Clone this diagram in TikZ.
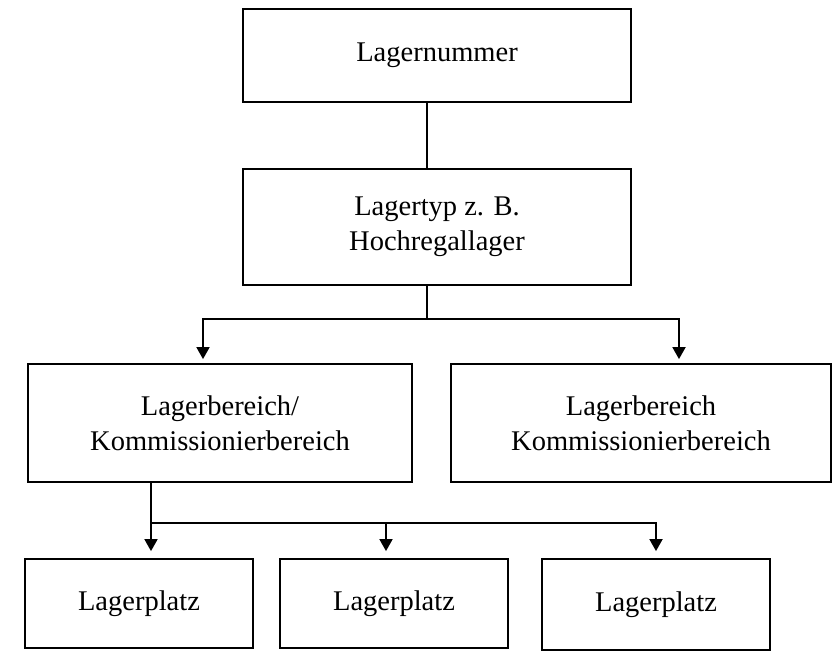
\documentclass[tikz,border=0pt]{standalone}
\usepackage{fontspec}
\setmainfont{Liberation Serif}
\usetikzlibrary{arrows.meta}
\begin{document}
\begin{tikzpicture}[x=1pt,y=-1pt,
  box/.style={draw=black,line width=1.8pt,fill=white,align=center,inner sep=0pt,
    font=\fontsize{28.5}{35}\selectfont},
  conn/.style={line width=1.8pt,draw=black},
  arr/.style={conn,-{Triangle[width=13pt,length=12pt]}}]
\useasboundingbox[fill=white] (0,0) rectangle (833,653);
\node[box,minimum width=388pt,minimum height=93pt] (b1) at (437,55.5) {Lagernummer};
\node[box,minimum width=388pt,minimum height=116pt] (b2) at (437,227) {Lagertyp z. B.\\Hochregallager};
\node[box,minimum width=384pt,minimum height=118pt] (b3) at (220,423) {Lagerbereich/\\Kommissionierbereich};
\node[box,minimum width=380pt,minimum height=118pt] (b4) at (641,423) {Lagerbereich\\Kommissionierbereich};
\node[box,minimum width=228pt,minimum height=89pt] (b5) at (139,603.5) {Lagerplatz};
\node[box,minimum width=228pt,minimum height=89pt] (b6) at (394,603.5) {Lagerplatz};
\node[box,minimum width=228pt,minimum height=91pt] (b7) at (656,604.5) {Lagerplatz};
\coordinate (j1) at (427,319);
\coordinate (j2) at (151,523);
\draw[conn] ([xshift=-10pt]b1.south) -- ([xshift=-10pt]b2.north);
\draw[conn] ([xshift=-10pt]b2.south) -- (j1);
\draw[arr] (j1) -| ([xshift=-17pt,yshift=4pt]b3.north);
\draw[arr] (j1) -| ([xshift=38pt,yshift=4pt]b4.north);
\draw[conn] ([xshift=-69pt]b3.south) -- (j2);
\draw[arr] (j2) -- ([xshift=12pt,yshift=7pt]b5.north);
\draw[arr] (j2) -| ([xshift=-8pt,yshift=7pt]b6.north);
\draw[arr] (j2) -| ([yshift=7pt]b7.north);
\end{tikzpicture}
\end{document}
